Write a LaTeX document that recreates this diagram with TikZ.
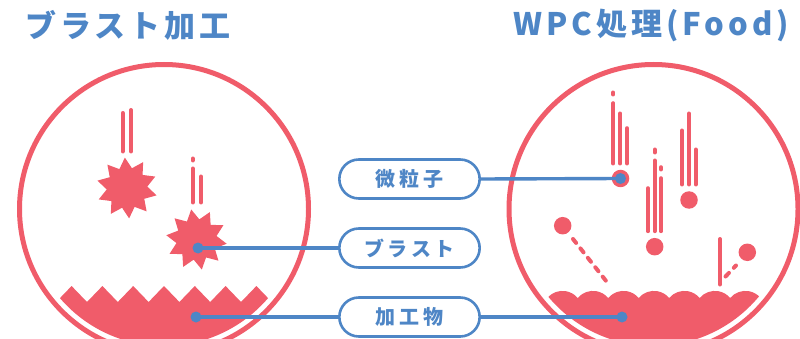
\documentclass[tikz,border=0pt]{standalone}
\usepackage{fontspec}
\setmainfont{Noto Sans CJK JP}
\usetikzlibrary{positioning, shapes.geometric, shapes.misc}
\definecolor{cR}{RGB}{240,92,106}
\definecolor{cB}{RGB}{78,134,198}

\begin{document}
\begin{tikzpicture}[x=1pt, y=-1pt, node distance=69pt, on grid,
    ring/.style={draw=cR, line width=5pt},
    trail/.style={draw=cR, line width=4pt, line cap=round},
    spark/.style={star, star points=10, star point ratio=1.5, minimum size=61pt, inner sep=0pt, fill=cR},
    grain/.style={circle, fill=cR, minimum size=17.5pt, inner sep=0pt},
    bdot/.style={circle, fill=cB, minimum size=11pt, inner sep=0pt},
    pill/.style={rounded rectangle, draw=cB, line width=2.6pt, fill=white, text=cB,
        minimum width=147pt, minimum height=39pt,
        font=\fontsize{20pt}{24pt}\selectfont\bfseries\addfontfeatures{LetterSpace=18}},
    heading/.style={anchor=west, inner sep=0pt, text=cB,
        font=\fontsize{31pt}{36pt}\selectfont\bfseries\addfontfeatures{LetterSpace=13}},
    wire/.style={draw=cB, line width=3.4pt}]
    \useasboundingbox (0,0) rectangle (800,339);
    \clip (0,0) rectangle (800,339);

    \node[heading] (blastTitle) at (25,25) {ブラスト加工};
    \node[heading] (wpcTitle) at (513,25) {WPC処理(Food)};

    \coordinate (L) at (164,209);
    \coordinate (R) at (653.5,209);
    \draw[ring] (L) circle[radius=144.5pt];
    \draw[ring] (R) circle[radius=144.5pt];

    % blasted surface: sharp teeth
    \begin{scope}
        \clip (L) circle[radius=137pt];
        \fill[cR] (40.8,286) -- (56.2,302) -- (71.6,286) -- (87,302) -- (102.4,286)
            -- (117.8,302) -- (133.2,286) -- (148.6,302) -- (164,286) -- (179.4,302)
            -- (194.8,286) -- (210.2,302) -- (225.6,286) -- (241,302) -- (256.4,286)
            -- (271.8,302) -- (287.2,286) -- (287.2,366) -- (40.8,366) -- cycle;
    \end{scope}

    % WPC surface: soft waves
    \begin{scope}
        \clip (R) circle[radius=137pt];
        \fill[cR] (516.75,298)
            arc[start angle=140, end angle=40, radius=19.9pt]
            arc[start angle=140, end angle=40, radius=19.9pt]
            arc[start angle=140, end angle=40, radius=19.9pt]
            arc[start angle=140, end angle=40, radius=19.9pt]
            arc[start angle=140, end angle=40, radius=19.9pt]
            arc[start angle=140, end angle=40, radius=19.9pt]
            arc[start angle=140, end angle=40, radius=19.9pt]
            arc[start angle=140, end angle=40, radius=19.9pt]
            arc[start angle=140, end angle=40, radius=19.9pt]
            -- (791.25,366) -- (516.75,366) -- cycle;
    \end{scope}

    % blast media
    \node[spark, shape border rotate=4] (sparkA) at (127,188) {};
    \draw[trail] (122.7,113) -- (122.7,151.5);
    \draw[trail] (131,110) -- (131,151.5);
    \node[spark, shape border rotate=10] (sparkB) at (196.5,239.5) {};
    \draw[trail] (192.7,158.5) -- (192.7,160.5);
    \draw[trail] (192.7,168.5) -- (192.7,202.5);
    \draw[trail] (201,176.5) -- (201,202.5);

    % fine shot
    \node[grain] (grainA) at (620.5,178.5) {};
    \draw[trail] (613.3,92.5) -- (613.3,94.5);
    \draw[trail] (613.3,103.2) -- (613.3,163.5);
    \draw[trail] (620.3,113.5) -- (620.3,163.5);
    \draw[trail] (627,128.2) -- (627,163.5);
    \node[grain] (grainB) at (654.7,246.7) {};
    \draw[trail] (648,188.2) -- (648,231.2);
    \draw[trail] (654.7,149.5) -- (654.7,152.5);
    \draw[trail] (654.7,160.5) -- (654.7,231.2);
    \draw[trail] (661,167.2) -- (661,169.5);
    \draw[trail] (661,178.2) -- (661,231.2);
    \node[grain] (grainC) at (689,200) {};
    \draw[trail] (682,130.5) -- (682,184.5);
    \draw[trail] (689,113.5) -- (689,184.5);
    \draw[trail] (695.7,149.5) -- (695.7,184.5);
    \node[grain] (grainD) at (562.7,225.7) {};
    \draw[trail, dash pattern=on 5pt off 7pt] (573,239) -- (606.5,281.5);
    \node[grain] (grainE) at (747.3,252.3) {};
    \draw[trail] (720,239) -- (720,284.5);
    \draw[trail, dash pattern=on 5pt off 7pt] (725.5,276.5) -- (736,265.5);

    % callouts
    \node[pill] (pillGrain) at (409.5,179) {微粒子};
    \node[pill] (pillBlast) [below=of pillGrain] {ブラスト};
    \node[pill] (pillWork) [below=of pillBlast] {加工物};

    \node[bdot] (grainDot) at (grainA) {};
    \node[bdot] (blastDot) at (198,248) {};
    \node[bdot] (workDotL) at (196,317) {};
    \node[bdot] (workDotR) at (622,317) {};

    \draw[wire] (pillGrain.east) -- (grainDot.center);
    \draw[wire] (blastDot.center) -- (pillBlast.west);
    \draw[wire] (workDotL.center) -- (pillWork.west);
    \draw[wire] (pillWork.east) -- (workDotR.center);
\end{tikzpicture}
\end{document}
